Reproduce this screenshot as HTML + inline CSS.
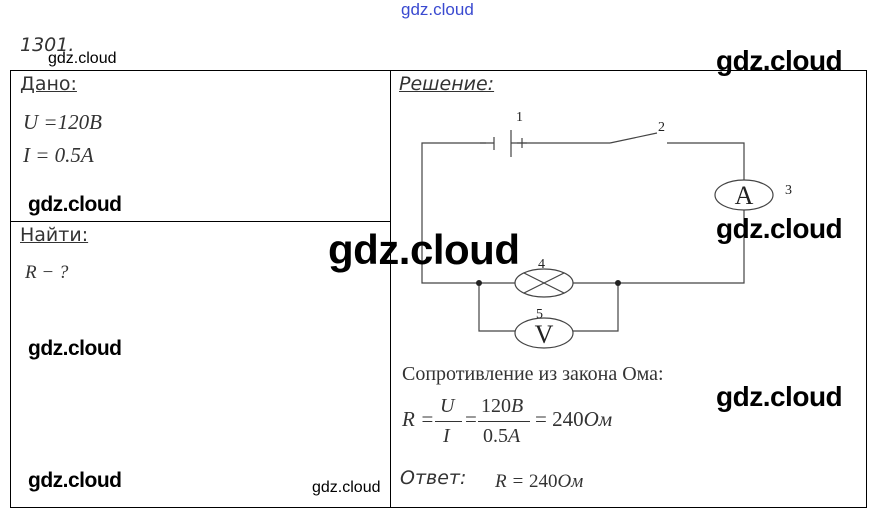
<!DOCTYPE html>
<html><head><meta charset="utf-8"><style>
body{margin:0;width:879px;height:523px;background:#fff;position:relative;overflow:hidden;font-family:"Liberation Sans",sans-serif}
.a{position:absolute;white-space:nowrap}
.g{font-weight:bold;letter-spacing:-0.5px}
.w{font-family:"DejaVu Sans","Liberation Sans",sans-serif;color:#000}
.m{font-family:"Liberation Serif",serif;font-style:italic;color:#333}
.s{font-family:"Liberation Serif",serif;color:#333}
</style></head><body>
<svg class="a" style="left:0;top:0" width="879" height="523">
<g stroke="#000" stroke-width="1" fill="none">
<rect x="10.5" y="70.5" width="856" height="437"/>
<line x1="390.5" y1="70" x2="390.5" y2="508"/>
<line x1="10" y1="221.5" x2="390" y2="221.5"/>
</g>
<g stroke="#444" stroke-width="1.2" fill="none">
<polyline points="494,143 422,143 422,283 515,283"/>
<line x1="494" y1="137" x2="494" y2="150"/>
<line x1="511" y1="130" x2="511" y2="157"/>
<line x1="511" y1="143" x2="610" y2="143"/>
<line x1="610" y1="143" x2="657" y2="133"/>
<polyline points="667,143 744,143 744,180"/>
<ellipse cx="744" cy="195" rx="29" ry="15"/>
<polyline points="744,210 744,283 573,283"/>
<ellipse cx="544" cy="283" rx="29" ry="14"/>
<line x1="524" y1="273" x2="564" y2="293"/>
<line x1="524" y1="293" x2="564" y2="273"/>
<polyline points="479,283 479,331 515,331"/>
<ellipse cx="544" cy="333" rx="29" ry="15"/>
<polyline points="573,331 618,331 618,283"/>
<line x1="480" y1="143" x2="486" y2="143"/>
<line x1="517" y1="143" x2="527" y2="143"/><line x1="522" y1="138" x2="522" y2="148"/>
</g>
<circle cx="479" cy="283" r="3" fill="#222"/><circle cx="618" cy="283" r="3" fill="#222"/>
<g font-family="Liberation Serif,serif" fill="#222">
<text x="744" y="204" font-size="26" text-anchor="middle">A</text>
<text x="544" y="343" font-size="26" text-anchor="middle">V</text>
<text x="516" y="121" font-size="14">1</text>
<text x="658" y="131" font-size="14">2</text>
<text x="785" y="194" font-size="14">3</text>
<text x="538" y="268" font-size="14">4</text>
<text x="536" y="318" font-size="14">5</text>
</g>
<line x1="435" y1="421.5" x2="462" y2="421.5" stroke="#333"/>
<line x1="478" y1="421.5" x2="530" y2="421.5" stroke="#333"/>
</svg>
<div class="a" style="left:401px;top:0;font-size:17px;color:#3a4ad0">gdz.cloud</div>
<div class="a w" style="left:20px;top:34px;font-size:19px;font-style:italic;color:#333">1301.</div>
<div class="a" style="left:48px;top:50px;font-size:16px">gdz.cloud</div>
<div class="a w" style="left:20px;top:73px;font-size:19px;text-decoration:underline;color:#333">Дано:</div>
<div class="a m" style="left:23px;top:110px;font-size:21px">U =120B</div>
<div class="a m" style="left:23px;top:143px;font-size:21px">I = 0.5A</div>
<div class="a g" style="left:28px;top:193px;font-size:21px">gdz.cloud</div>
<div class="a w" style="left:20px;top:224px;font-size:19px;text-decoration:underline;color:#333">Найти:</div>
<div class="a m" style="left:25px;top:262px;font-size:19px">R − ?</div>
<div class="a g" style="left:328px;top:226px;font-size:42px">gdz.cloud</div>
<div class="a g" style="left:28px;top:337px;font-size:21px">gdz.cloud</div>
<div class="a g" style="left:28px;top:469px;font-size:21px">gdz.cloud</div>
<div class="a" style="left:312px;top:479px;font-size:16px">gdz.cloud</div>
<div class="a w" style="left:399px;top:73px;font-size:19px;font-style:italic;text-decoration:underline;color:#333">Решение:</div>
<div class="a g" style="left:716px;top:45px;font-size:28px">gdz.cloud</div>
<div class="a g" style="left:716px;top:213px;font-size:28px">gdz.cloud</div>
<div class="a g" style="left:716px;top:381px;font-size:28px">gdz.cloud</div>
<div class="a s" style="left:402px;top:363px;font-size:20px">Сопротивление из закона Ома:</div>
<div class="a m" style="left:402px;top:407px;font-size:21px">R =</div>
<div class="a m" style="left:440px;top:395px;font-size:20px">U</div>
<div class="a m" style="left:443px;top:425px;font-size:20px">I</div>
<div class="a s" style="left:465px;top:407px;font-size:21px">=</div>
<div class="a m" style="left:481px;top:395px;font-size:20px;font-style:normal">120<i>B</i></div>
<div class="a m" style="left:483px;top:425px;font-size:20px;font-style:normal">0.5<i>A</i></div>
<div class="a m" style="left:535px;top:407px;font-size:21px;font-style:normal">= 240<i>Ом</i></div>
<div class="a w" style="left:400px;top:467px;font-size:19px;font-style:italic;color:#333">Ответ:</div>
<div class="a m" style="left:495px;top:471px;font-size:19px">R = <span style="font-style:normal">240</span>Ом</div>
</body></html>
